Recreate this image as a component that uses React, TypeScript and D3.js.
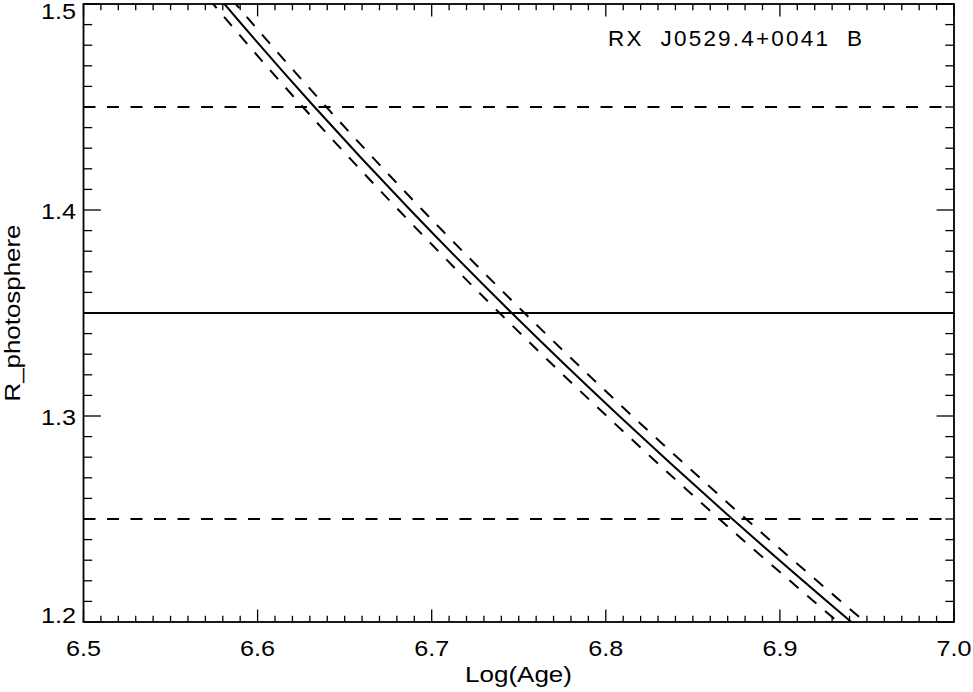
import React from "react";
import * as d3 from "d3";

// Data
const rValues = [1.52, 1.5, 1.45, 1.4, 1.35, 1.3, 1.25, 1.2, 1.18];
const ageSolid = [6.5613, 6.581, 6.6327, 6.6877, 6.746, 6.8077, 6.8727, 6.941, 6.969];
const ageLow = [6.5548, 6.5745, 6.626, 6.681, 6.739, 6.8005, 6.8652, 6.9333, 6.961];
const ageHigh = [6.5678, 6.5875, 6.6395, 6.6947, 6.7533, 6.8152, 6.8805, 6.949, 6.977];
const rMeasured = 1.35;
const rErrLow = 1.25;
const rErrHigh = 1.45;
const xTicks = [6.5, 6.6, 6.7, 6.8, 6.9, 7.0];
const yTicks = [1.2, 1.3, 1.4, 1.5];
const title = "RX  J0529.4+0041  B";
const xTitle = "Log(Age)";
const yTitle = "R_photosphere";

const W = 973;
const H = 692;
const L = 83.5;
const R = 954;
const T = 4;
const B = 622;

export default function App() {
  const x = d3.scaleLinear().domain([6.5, 7.0]).range([L, R]);
  const y = d3.scaleLinear().domain([1.2, 1.5]).range([B, T]);

  const xMinor = d3.range(0, 51).map((i) => 6.5 + i * 0.01);
  const yMinor = d3.range(0, 31).map((i) => 1.2 + i * 0.01);
  const isMajor = (v: number) => Math.abs(v * 10 - Math.round(v * 10)) < 1e-6;

  const xMaj = 12.4, xMin = 6.2, yMaj = 17.4, yMin = 8.7;

  const mk = (ages: number[]) =>
    d3
      .line<number>()
      .x((d, i) => x(ages[i]))
      .y((d) => y(d))
      .curve(d3.curveMonotoneY)(rValues) as string;

  const font = "'Liberation Sans', Arial, Helvetica, sans-serif";
  const dash = "12 11.5";
  const lblW = 35;

  return (
    <svg
      width={W}
      height={H}
      style={{ position: "absolute", left: 0, top: 0, background: "#fff" }}
    >
      <defs>
        <clipPath id="plotclip">
          <rect x={L} y={T} width={R - L} height={B - T} />
        </clipPath>
      </defs>
      <rect x={0} y={0} width={W} height={H} fill="#fff" />
      <g clipPath="url(#plotclip)" fill="none" stroke="#000" strokeWidth={2}>
        <line x1={L} x2={R} y1={y(rMeasured)} y2={y(rMeasured)} />
        <line x1={L} x2={R} y1={y(rErrHigh)} y2={y(rErrHigh)} strokeDasharray={dash} />
        <line x1={L} x2={R} y1={y(rErrLow)} y2={y(rErrLow)} strokeDasharray={dash} />
        <path d={mk(ageSolid)} />
        <path d={mk(ageLow)} strokeDasharray={dash} />
        <path d={mk(ageHigh)} strokeDasharray={dash} />
      </g>
      {/* ticks */}
      <g stroke="#000" strokeWidth={1.3}>
        {xMinor.map((v, i) => {
          const len = isMajor(v) ? xMaj : xMin;
          const px = x(v);
          return (
            <g key={"xt" + i}>
              <line x1={px} x2={px} y1={B} y2={B - len} />
              <line x1={px} x2={px} y1={T} y2={T + len} />
            </g>
          );
        })}
        {yMinor.map((v, i) => {
          const len = isMajor(v) ? yMaj : yMin;
          const py = y(v);
          return (
            <g key={"yt" + i}>
              <line x1={L} x2={L + len} y1={py} y2={py} />
              <line x1={R} x2={R - len} y1={py} y2={py} />
            </g>
          );
        })}
      </g>
      <rect x={L} y={T} width={R - L} height={B - T} fill="none" stroke="#000" strokeWidth={1.8} />
      {/* tick labels */}
      <g fontFamily={font} fontSize={22.5} fill="#000">
        {xTicks.map((v) => (
          <text
            key={"xl" + v}
            x={x(v) - lblW / 2}
            y={656}
            textLength={lblW}
            lengthAdjust="spacingAndGlyphs"
          >
            {v.toFixed(1)}
          </text>
        ))}
        {yTicks.map((v) => {
          const py = y(v);
          const base = Math.min(Math.max(py + 8.5, T + 15), B + 1);
          return (
            <text
              key={"yl" + v}
              x={76 - lblW}
              y={base}
              textLength={lblW}
              lengthAdjust="spacingAndGlyphs"
            >
              {v.toFixed(1)}
            </text>
          );
        })}
        <text x={465} y={682} textLength={107} lengthAdjust="spacingAndGlyphs">
          {xTitle}
        </text>
        <text
          transform={`translate(19.5, ${(T + B) / 2}) rotate(-90)`}
          x={-88.5}
          y={0}
          textLength={177}
          lengthAdjust="spacingAndGlyphs"
        >
          {yTitle}
        </text>
        <text
          x={608}
          y={46}
          style={{ whiteSpace: "pre" }}
          textLength={254}
          lengthAdjust="spacing"
        >
          {title}
        </text>
      </g>
    </svg>
  );
}
